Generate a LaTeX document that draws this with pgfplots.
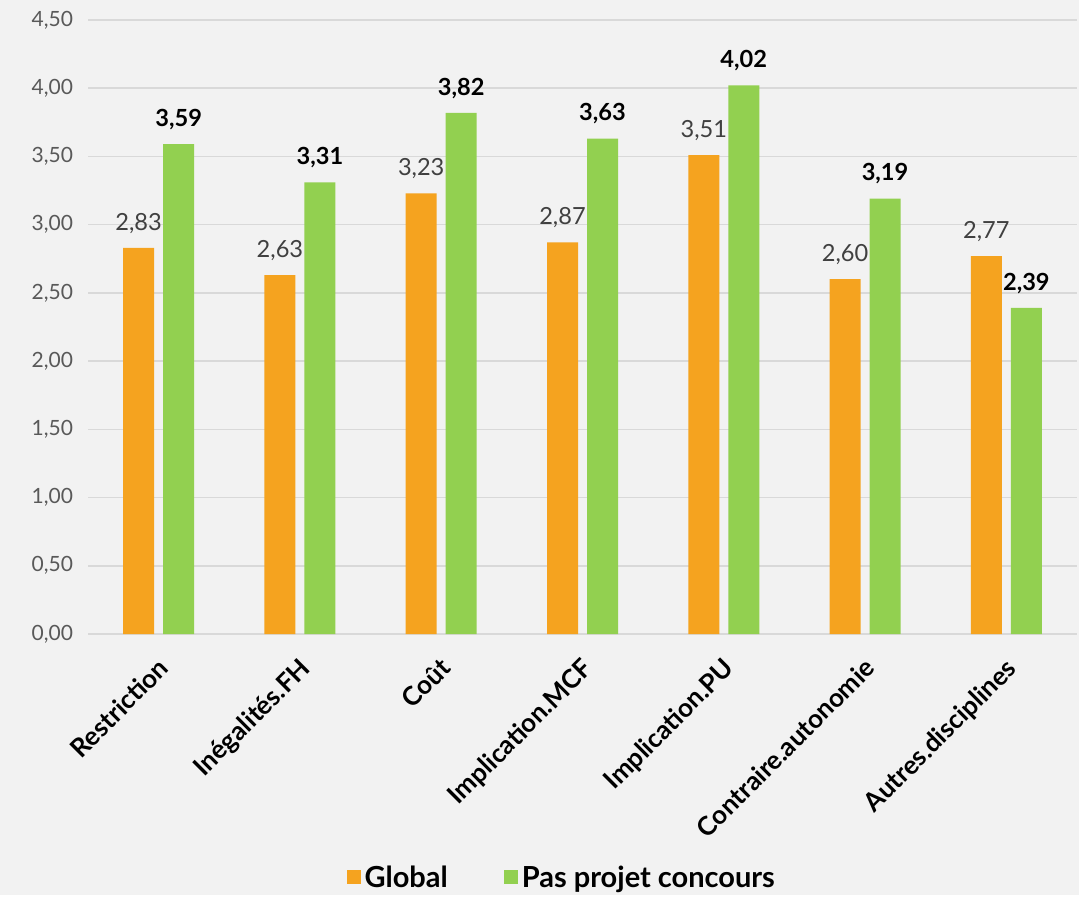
\documentclass[border=0pt]{standalone}
\usepackage{pgfplots}
\pgfplotsset{compat=1.18}
\usepackage{fontspec}
\setmainfont{Lato}
\definecolor{bg}{HTML}{F2F2F2}
\definecolor{gridc}{HTML}{D9D9D9}
\definecolor{orangeb}{HTML}{F5A31F}
\definecolor{greenb}{HTML}{92D050}
\definecolor{ticktxt}{HTML}{595959}
\definecolor{lab}{HTML}{404040}
\begin{document}
\begin{tikzpicture}
\fill[bg] (0,0) rectangle (539.5pt,447.5pt);
\begin{axis}[
  at={(44pt,130.5pt)}, anchor=south west,
  scale only axis, width=494.5pt, height=307pt,
  xmin=-0.5, xmax=6.5, ymin=0, ymax=4.5,
  ybar, bar width=15.5pt,
  clip=false,
  axis line style={draw=none},
  major tick length=0pt,
  ymajorgrids, grid style={gridc, line width=0.8pt},
  ytick={0,0.5,1,1.5,2,2.5,3,3.5,4,4.5},
  /pgf/number format/.cd, fixed, fixed zerofill, precision=2, use comma, assume math mode=true,
  /pgfplots/.cd,
  yticklabel style={font=\fontsize{10.5}{12}\selectfont, color=ticktxt, xshift=-4pt},
  xtick={0,1,2,3,4,5,6},
  xticklabels={Restriction, Inégalités.FH, Coût, Implication.MCF, Implication.PU, Contraire.autonomie, Autres.disciplines},
  xticklabel style={yshift=-11pt, xshift=-1pt, rotate=45, anchor=north east, font=\bfseries\fontsize{13}{15}\selectfont, color=black, inner sep=0pt},
  legend style={at={(0.48,-0.397)}, anchor=center, draw=none, fill=none, legend columns=2,
    font=\bfseries\fontsize{14.5}{17}\selectfont,
    /tikz/every even column/.append style={column sep=26pt}},
  legend image code/.code={\fill[#1,draw=none] (0pt,-3pt) rectangle (7pt,4pt);},
]
\addplot[fill=orangeb, draw=none, bar shift=-10pt,
  nodes near coords,
  nodes near coords style={font=\fontsize{11.8}{14}\selectfont, color=lab, anchor=south, inner sep=2pt, yshift=5pt}]
  coordinates {(0,2.83) (1,2.63) (2,3.23) (3,2.87) (4,3.51) (5,2.60) (6,2.77)};
\addlegendentry{Global}
\addplot[fill=greenb, draw=none, bar shift=10pt,
  nodes near coords,
  nodes near coords style={font=\bfseries\fontsize{11.8}{14}\selectfont, color=black, anchor=south, inner sep=2pt, yshift=5pt}]
  coordinates {(0,3.59) (1,3.31) (2,3.82) (3,3.63) (4,4.02) (5,3.19) (6,2.39)};
\addlegendentry{Pas projet concours}
\end{axis}
\end{tikzpicture}
\end{document}
